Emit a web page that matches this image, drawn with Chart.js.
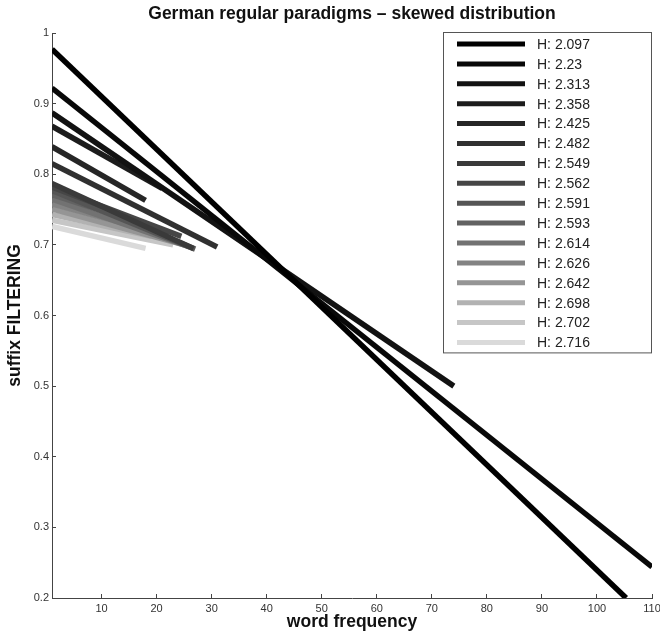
<!DOCTYPE html>
<html>
<head>
<meta charset="utf-8">
<script src="https://cdn.jsdelivr.net/npm/chart.js@4.4.1/dist/chart.umd.min.js"></script>
<style>
  html, body { margin: 0; padding: 0; background: #fff; }
  #wrap { width: 660px; height: 637px; }
</style>
</head>
<body>
<div id="wrap"><canvas id="myChart" width="660" height="637"></canvas></div>
<script>
// entropy of each paradigm (legend), darkest first
var entropies = ['2.097', '2.23', '2.313', '2.358', '2.425', '2.482', '2.549', '2.562',
                 '2.591', '2.593', '2.614', '2.626', '2.642', '2.698', '2.702', '2.716'];
// each line goes from (1, startY) to (endX, endY)
var startY = [0.977, 0.922, 0.887, 0.868, 0.839, 0.815, 0.787, 0.782,
              0.777, 0.771, 0.765, 0.758, 0.751, 0.743, 0.735, 0.726];
var endX   = [105.3, 110, 74, 21, 18, 31, 26.7, 24.5,
              27, 22, 26, 21, 25, 19, 23, 18];
var endY   = [0.2, 0.244, 0.50, 0.780, 0.763, 0.697, 0.695, 0.712,
              0.694, 0.718, 0.697, 0.716, 0.700, 0.712, 0.700, 0.695];
var startX = 1;

var xTicks = [10, 20, 30, 40, 50, 60, 70, 80, 90, 100, 110];
var yTicks = [0.2, 0.3, 0.4, 0.5, 0.6, 0.7, 0.8, 0.9, 1];

var grays = ['#000000', '#080808', '#121212', '#1c1c1c', '#262626', '#303030', '#3a3a3a', '#464646',
             '#555555', '#626262', '#727272', '#838383', '#959595', '#b2b2b2', '#c6c6c6', '#dadada'];

var FONT = '"Liberation Sans", Arial, sans-serif';

var datasets = [];
for (var i = 0; i < entropies.length; i++) {
    datasets.push({
        label: 'H: ' + entropies[i],
        data: [{x: startX, y: startY[i]}, {x: endX[i], y: endY[i]}],
        borderColor: grays[i],
        backgroundColor: grays[i],
        borderWidth: 5.5,
        borderCapStyle: 'butt',
        showLine: true,
        pointRadius: 0,
        clip: 0
    });
}

// MATLAB style boxed legend drawn on top of the plot
var boxLegend = {
    id: 'boxLegend',
    afterDraw: function (chart) {
        var ctx = chart.ctx;
        var left = 443, top = 32, width = 208, rowH = 19.9;
        var sets = chart.data.datasets;
        var height = sets.length * rowH + 2;
        ctx.save();
        ctx.fillStyle = '#fff';
        ctx.fillRect(left, top, width, height);
        ctx.strokeStyle = '#555';
        ctx.lineWidth = 1;
        ctx.strokeRect(left + 0.5, top + 0.5, width, height);
        ctx.font = '14px ' + FONT;
        ctx.textBaseline = 'middle';
        for (var i = 0; i < sets.length; i++) {
            var y = top + 12 + i * rowH;
            ctx.strokeStyle = sets[i].borderColor;
            ctx.lineWidth = 5;
            ctx.beginPath();
            ctx.moveTo(457, y);
            ctx.lineTo(525, y);
            ctx.stroke();
            ctx.fillStyle = '#222';
            ctx.fillText(sets[i].label, 537, y + 1);
        }
        ctx.restore();
    }
};

var ctx = document.getElementById('myChart').getContext('2d');
var chart = new Chart(ctx, {
    type: 'scatter',
    data: { datasets: datasets },
    options: {
        responsive: false,
        animation: false,
        layout: { padding: { top: 4, right: 8, left: 0, bottom: 0 } },
        plugins: {
            legend: { display: false },
            tooltip: { enabled: false },
            title: {
                display: true,
                fullSize: false,
                text: 'German regular paradigms \u2013 skewed distribution',
                color: '#111',
                font: { family: FONT, size: 17.5, weight: 'bold' },
                padding: { top: 0, bottom: 8 }
            }
        },
        scales: {
            x: {
                type: 'linear',
                min: 1,
                max: 110,
                afterBuildTicks: function (scale) {
                    scale.ticks = xTicks.map(function (v) { return {value: v}; });
                },
                afterFit: function (scale) {
                    scale.height = 39;
                    scale.paddingRight = 0;
                },
                border: { display: true, color: '#444', width: 1 },
                grid: { display: true, drawOnChartArea: false, drawTicks: true, tickLength: -4, color: '#444' },
                ticks: {
                    color: '#333',
                    padding: 8,
                    maxRotation: 0,
                    font: { family: FONT, size: 11 }
                },
                title: {
                    display: true,
                    text: 'word frequency',
                    color: '#111',
                    padding: { top: 0, bottom: 4 },
                    font: { family: FONT, size: 17.5, weight: 'bold' }
                }
            },
            y: {
                type: 'linear',
                min: 0.2,
                max: 1,
                afterBuildTicks: function (scale) {
                    scale.ticks = yTicks.map(function (v) { return {value: v}; });
                },
                afterFit: function (scale) { scale.width = 52; },
                border: { display: true, color: '#444', width: 1 },
                grid: { display: true, drawOnChartArea: false, drawTicks: true, tickLength: -4, color: '#444' },
                ticks: {
                    color: '#333',
                    padding: 7,
                    font: { family: FONT, size: 11 },
                    callback: function (v) { return String(Math.round(v * 10) / 10); }
                },
                title: {
                    display: true,
                    text: 'suffix FILTERING',
                    color: '#111',
                    padding: { top: 5, bottom: 0 },
                    font: { family: FONT, size: 17.5, weight: 'bold' }
                }
            }
        }
    },
    plugins: [boxLegend]
});
</script>
</body>
</html>
